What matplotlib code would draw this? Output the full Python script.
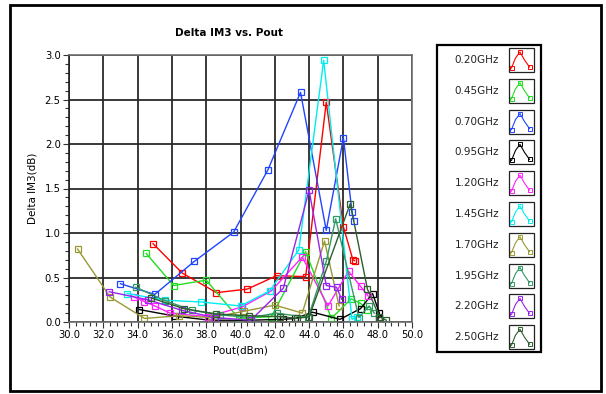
import matplotlib
matplotlib.use("Agg")
import matplotlib.pyplot as plt
from matplotlib.patches import Rectangle
from matplotlib.lines import Line2D
from matplotlib.ticker import MultipleLocator, FormatStrFormatter

plt.rcParams['font.family'] = ['DejaVu Sans']

series_names = ["0.20GHz", "0.45GHz", "0.70GHz", "0.95GHz", "1.20GHz",
                "1.45GHz", "1.70GHz", "1.95GHz", "2.20GHz", "2.50GHz"]
series_colors = ["#ff0000", "#22dd22", "#2244ff", "#000000", "#ff22ff",
                 "#00eeee", "#999933", "#339966", "#9922ee", "#2e5e2e"]

x_020 = [34.9, 36.6, 38.6, 40.4, 42.1, 43.8, 45.0, 46.0, 46.55, 46.65]
y_020 = [0.88, 0.55, 0.33, 0.37, 0.52, 0.51, 2.47, 1.07, 0.70, 0.69]

x_045 = [34.5, 36.1, 38.0, 39.9, 41.8, 43.8, 45.3, 46.45, 47.0, 47.4]
y_045 = [0.77, 0.41, 0.47, 0.04, 0.06, 0.79, 0.04, 0.26, 0.21, 0.14]

x_070 = [33.0, 35.0, 37.3, 39.6, 41.6, 43.5, 45.0, 46.0, 46.5, 46.6]
y_070 = [0.43, 0.31, 0.68, 1.01, 1.71, 2.58, 1.03, 2.07, 1.24, 1.14]

x_095 = [34.1, 36.2, 38.2, 40.5, 42.5, 43.2, 44.2, 45.8, 47.0, 47.7, 48.1, 48.1]
y_095 = [0.14, 0.065, 0.02, 0.02, 0.03, 0.04, 0.11, 0.03, 0.15, 0.32, 0.10, 0.05]

x_120 = [33.8, 34.4, 35.0, 35.9, 38.1, 40.1, 41.8, 43.6, 45.1, 46.3, 47.0, 47.45]
y_120 = [0.28, 0.23, 0.18, 0.10, 0.06, 0.17, 0.35, 0.73, 0.18, 0.57, 0.40, 0.29]

x_145 = [33.4, 35.6, 37.7, 40.0, 41.7, 43.4, 44.85, 46.5, 46.8]
y_145 = [0.32, 0.245, 0.225, 0.18, 0.35, 0.81, 2.94, 0.03, 0.06]

x_170 = [30.5, 32.4, 34.4, 36.4, 38.3, 40.2, 42.0, 43.6, 44.9, 45.75]
y_170 = [0.82, 0.28, 0.04, 0.07, 0.05, 0.12, 0.19, 0.10, 0.91, 0.18]

x_195 = [33.9, 35.6, 37.2, 38.8, 40.6, 42.1, 43.95, 45.0, 45.55, 46.9, 47.5, 47.8]
y_195 = [0.39, 0.24, 0.13, 0.08, 0.05, 0.10, 0.05, 0.68, 1.16, 0.05, 0.18, 0.10]

x_220 = [32.35, 34.6, 36.6, 38.5, 40.6, 42.5, 44.0, 45.0, 45.6, 45.9]
y_220 = [0.34, 0.25, 0.13, 0.05, 0.02, 0.38, 1.48, 0.41, 0.39, 0.255]

x_250 = [34.8, 36.7, 38.6, 40.5, 42.3, 43.3, 44.0, 46.4, 47.4, 48.1, 48.5]
y_250 = [0.27, 0.15, 0.09, 0.07, 0.06, 0.04, 0.06, 1.33, 0.37, 0.06, 0.02]

all_x = [x_020, x_045, x_070, x_095, x_120, x_145, x_170, x_195, x_220, x_250]
all_y = [y_020, y_045, y_070, y_095, y_120, y_145, y_170, y_195, y_220, y_250]

W, H = 606, 394
fig = plt.figure(figsize=(W / 100, H / 100), dpi=100)


def fx(px):
    return px / W


def fy(py):
    return 1 - py / H


# outer border
fig.add_artist(Rectangle((fx(10), fy(391)), fx(591), 386 / H, transform=fig.transFigure,
                         fill=False, edgecolor="black", linewidth=2))

ax_l, ax_r, ax_t, ax_b = 69, 412, 55, 322
ax = fig.add_axes([fx(ax_l), fy(ax_b), (ax_r - ax_l) / W, (ax_b - ax_t) / H])

for xs, ys, c in zip(all_x, all_y, series_colors):
    ax.plot(xs, ys, color=c, linewidth=1.0, marker="s", markersize=4.5,
            markerfacecolor="none", markeredgecolor=c, markeredgewidth=0.9)

ax.set_xlim(30, 50)
ax.set_ylim(0, 3.0)
ax.xaxis.set_major_locator(MultipleLocator(2))
ax.xaxis.set_minor_locator(MultipleLocator(0.4))
ax.yaxis.set_major_locator(MultipleLocator(0.5))
ax.yaxis.set_minor_locator(MultipleLocator(0.1))
ax.xaxis.set_major_formatter(FormatStrFormatter("%.1f"))
ax.yaxis.set_major_formatter(FormatStrFormatter("%.1f"))
ax.tick_params(which="both", direction="out", color="#333333", width=0.8)
ax.tick_params(which="major", length=4, labelsize=7.2, pad=2)
ax.tick_params(which="minor", length=3)
ax.grid(True, which="major", color="#2a2a2a", linewidth=1.3)
ax.set_axisbelow(True)
for s in ax.spines.values():
    s.set_color("#707070")
    s.set_linewidth(1.2)
ax.spines["left"].set_color("#202020")

ax.set_xlabel("Pout(dBm)", fontsize=7.5, labelpad=4)
ax.set_ylabel("Delta IM3(dB)", fontsize=7.5, labelpad=5)
fig.text(fx(229), fy(33), "Delta IM3 vs. Pout", fontsize=7.5, fontweight="bold",
         ha="center", va="center")

# legend panel
lg_l, lg_t, lg_r, lg_b = 437, 45, 541, 352
fig.add_artist(Rectangle((fx(lg_l), fy(lg_b)), (lg_r - lg_l) / W, (lg_b - lg_t) / H,
                         transform=fig.transFigure, fill=False, edgecolor="black",
                         linewidth=1.6))
row0, dy = 60, 30.8
for i, (name, c) in enumerate(zip(series_names, series_colors)):
    yc = row0 + i * dy
    fig.text(fx(499), fy(yc), name, fontsize=7.5, ha="right", va="center", color="#222222")
    fig.add_artist(Rectangle((fx(509), fy(yc + 12)), 25 / W, 24 / H,
                             transform=fig.transFigure, fill=True, facecolor="white",
                             edgecolor="#222222", linewidth=0.9))
    gx = [511.5, 515.5, 520, 524.5, 529.5]
    gy = [yc + 8, yc - 2, yc - 8, yc + 0, yc + 7]
    fig.add_artist(Line2D([fx(v) for v in gx], [fy(v) for v in gy],
                          transform=fig.transFigure, color=c, linewidth=0.8))
    fig.add_artist(Line2D([fx(gx[0]), fx(gx[2]), fx(gx[4])],
                          [fy(gy[0]), fy(gy[2]), fy(gy[4])],
                          transform=fig.transFigure, linestyle="none", marker="s",
                          markersize=2.6, markerfacecolor="none", markeredgecolor=c,
                          markeredgewidth=0.7))

fig.savefig("out.png", dpi=100)
